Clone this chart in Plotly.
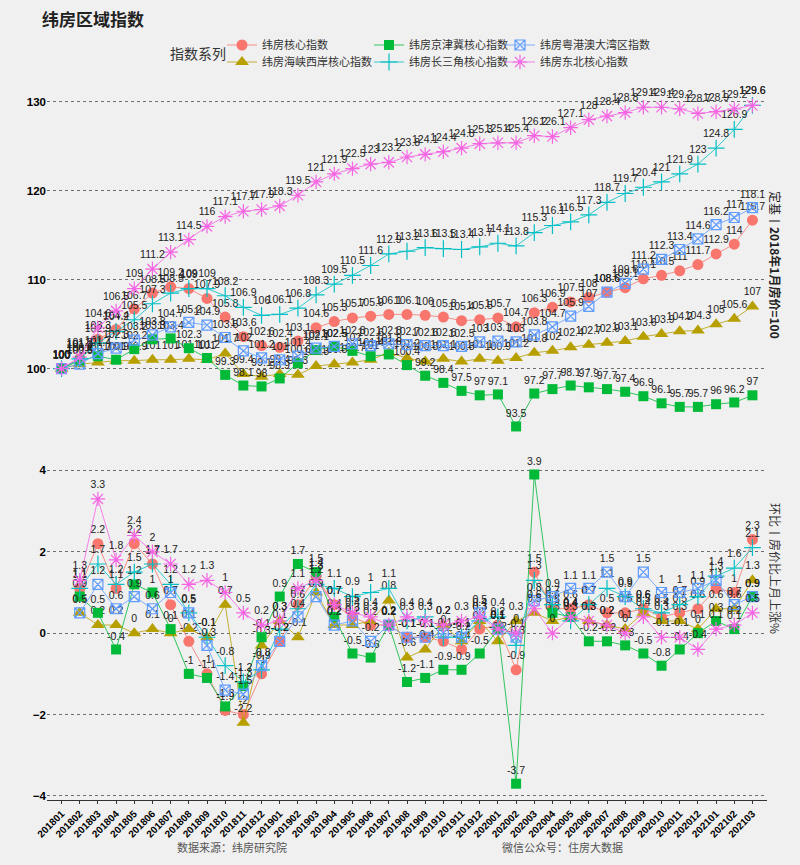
import plotly.graph_objects as go

months = ['201801', '201802', '201803', '201804', '201805', '201806', '201807', '201808', '201809', '201810',
          '201811', '201812', '201901', '201902', '201903', '201904', '201905', '201906', '201907', '201908',
          '201909', '201910', '201911', '201912', '202001', '202002', '202003', '202004', '202005', '202006',
          '202007', '202008', '202009', '202010', '202011', '202012', '202101', '202102', '202103']

# 定基指数 (2018年1月=100)
core_idx = [100, 101.1, 103.3, 104.4, 106.7, 108.5, 109.2, 109.0, 107.9, 105.8, 103.6, 102.6, 102.4, 103.1,
            104.6, 105.3, 105.7, 105.9, 106.1, 106.1, 106.0, 105.8, 105.4, 105.5, 105.7, 104.7, 106.3, 106.9,
            107.5, 108.0, 108.6, 109.1, 110.1, 110.5, 111.0, 111.7, 112.9, 114.0, 116.7]
hx_idx = [100, 100.5, 100.7, 100.9, 100.9, 101.0, 101.0, 101.1, 101.0, 101.7, 99.4, 99.1, 99.4, 99.3,
          100.3, 100.5, 100.7, 101.0, 101.8, 101.2, 100.8, 101.1, 100.8, 101.1, 100.9, 101.2, 101.8, 102.0,
          102.4, 102.7, 102.9, 103.1, 103.6, 103.9, 104.2, 104.3, 105.0, 105.6, 107.0]
jjj_idx = [100, 100.9, 101.4, 101.0, 102.2, 103.3, 103.4, 102.3, 101.2, 99.3, 98.1, 98.0, 98.9, 100.6,
           102.1, 102.5, 102.0, 101.4, 101.6, 100.4, 99.2, 98.4, 97.5, 97.0, 97.1, 93.5, 97.2, 97.7,
           98.1, 97.9, 97.7, 97.4, 96.9, 96.1, 95.7, 95.7, 96.0, 96.2, 97.0]
csj_idx = [100, 101.1, 102.9, 104.2, 105.5, 107.3, 108.5, 109.0, 109.0, 108.2, 106.9, 106.0, 106.1, 106.8,
           108.3, 109.5, 110.5, 111.6, 112.9, 113.2, 113.6, 113.5, 113.4, 113.7, 114.1, 113.8, 115.3, 116.1,
           116.5, 117.3, 118.7, 119.7, 120.4, 121.0, 121.9, 123.0, 124.8, 126.9, 129.6]
gba_idx = [100, 100.5, 101.7, 102.3, 103.2, 103.8, 104.7, 105.2, 104.9, 103.5, 102.0, 101.2, 101.0, 101.4,
           102.3, 102.5, 102.8, 102.6, 102.8, 102.7, 102.6, 102.6, 102.5, 103.0, 103.1, 103.0, 103.8, 104.7,
           105.9, 107.0, 108.6, 109.6, 111.2, 112.3, 113.4, 114.6, 116.2, 117.0, 118.1]
db_idx = [100, 101.3, 104.6, 106.5, 109.0, 111.2, 113.1, 114.5, 116.0, 117.1, 117.7, 117.9, 118.3, 119.5,
          121.0, 121.9, 122.5, 123.0, 123.2, 123.8, 124.1, 124.4, 124.8, 125.3, 125.4, 125.4, 126.2, 126.1,
          127.1, 128.0, 128.4, 128.8, 129.4, 129.4, 129.2, 128.7, 128.9, 129.2, 129.6]

# 环比 (%), from 201802
core_mom = [1.1, 2.2, 1.1, 2.2, 1.7, 0.7, -0.2, -1.0, -1.9, -2.0, -1.0, -0.2, 0.7, 1.4, 0.7, 0.4, 0.2, 0.2,
            -0.1, -0.1, -0.2, -0.4, 0.1, 0.2, -0.9, 1.5, 0.6, 0.6, 0.7, 0.5, 0.5, 0.6, 0.4, 0.5, 0.6, 1.1, 1.0, 2.3]
hx_mom = [0.5, 0.2, 0.2, 0.0, 0.1, 0.0, 0.1, -0.1, 0.7, -2.2, -0.3, 0.3, -0.1, 1.0, 0.2, 0.2, 0.3, 0.8,
          -0.6, -0.4, 0.2, -0.2, 0.3, -0.2, 0.3, 0.5, 0.3, 0.4, 0.3, 0.2, 0.1, 0.5, 0.3, 0.3, 0.1, 0.6, 0.6, 1.3]
jjj_mom = [0.9, 0.5, -0.4, 1.2, 1.0, 0.1, -1.0, -1.1, -1.8, -1.3, -0.1, 0.9, 1.7, 1.5, 0.4, -0.5, -0.6, 0.2,
           -1.2, -1.1, -0.9, -0.9, -0.5, 0.1, -3.7, 3.9, 0.5, 0.4, -0.2, -0.2, -0.3, -0.5, -0.8, -0.4, 0.0, 0.3, 0.1, 0.9]
csj_mom = [1.1, 1.7, 1.2, 1.5, 1.7, 1.2, 0.5, -0.1, -0.8, -1.2, -0.9, 0.1, 0.6, 1.2, 1.1, 0.9, 1.0, 1.1,
           0.3, 0.4, -0.1, -0.1, 0.3, 0.4, -0.3, 1.3, 0.7, 0.3, 0.7, 1.1, 0.9, 0.6, 0.5, 0.7, 0.9, 1.4, 1.6, 2.1]
gba_mom = [0.5, 1.2, 0.6, 0.9, 0.6, 1.0, 0.5, -0.3, -1.4, -1.5, -0.8, -0.2, 0.4, 0.9, 0.2, 0.3, -0.2, 0.2,
           -0.1, -0.1, 0.0, -0.1, 0.5, 0.1, -0.1, 0.8, 0.9, 1.1, 1.1, 1.5, 0.9, 1.5, 1.0, 1.0, 1.1, 1.3, 0.7, 0.9]
db_mom = [1.3, 3.3, 1.8, 2.4, 2.0, 1.7, 1.2, 1.3, 1.0, 0.5, 0.2, 0.3, 1.1, 1.3, 0.7, 0.5, 0.4, 0.2,
          0.4, 0.3, 0.2, 0.3, 0.4, 0.1, 0.0, 0.6, 0.0, 0.4, 0.3, 0.2, 0.0, 0.4, -0.1, -0.1, -0.4, 0.1, 0.2, 0.5]

names = ['纬房核心指数', '纬房海峡西岸核心指数', '纬房京津冀核心指数', '纬房长三角核心指数',
         '纬房粤港澳大湾区指数', '纬房东北核心指数']
idx_list = [core_idx, hx_idx, jjj_idx, csj_idx, gba_idx, db_idx]
mom_list = [core_mom, hx_mom, jjj_mom, csj_mom, gba_mom, db_mom]
colors = ['#F8766D', '#B79F00', '#00BA38', '#00BFC4', '#619CFF', '#F564E3']
line_colors = ['rgba(248,118,109,0.8)', 'rgba(183,159,0,0.8)', 'rgba(0,186,56,0.8)',
               'rgba(0,191,196,0.8)', 'rgba(97,156,255,0.8)', 'rgba(245,100,227,0.8)']
symbols = ['circle', 'triangle-up', 'square', 'cross-thin-open', 'square-x-open', 'asterisk-open']
sizes = [11, 12, 10, 12, 10, 12]

CJK = 'Noto Sans CJK SC'
NUM = 'Liberation Sans'

L, R, T, B = 47, 33, 85, 65
W, H = 800, 865
PW, PH = W - L - R, H - T - B


def px(x):
    return (x - L) / PW


def py(y):
    return (H - B - y) / PH


def fmt(v):
    return f'{v:g}'


# legend slot per series: (legend id, left x px, centre y px)
legend_ids = ['legend', 'legend2', 'legend3', 'legend4', 'legend5', 'legend6']
legend_pos = [(222, 45), (222, 62), (369, 45), (369, 62), (500, 45), (500, 62)]

fig = go.Figure()
for k in range(6):
    open_sym = symbols[k].endswith('open')
    marker = dict(symbol=symbols[k], size=sizes[k], color=colors[k],
                  line=dict(width=1.2 if open_sym else 0, color=colors[k]))
    fig.add_trace(go.Scatter(
        x=months, y=idx_list[k], mode='lines+markers+text', name=names[k],
        text=[fmt(v) for v in idx_list[k]], textposition='top center',
        textfont=dict(size=10.5, color='#222', family=NUM),
        line=dict(color=line_colors[k], width=1), marker=marker,
        xaxis='x', yaxis='y', legend=legend_ids[k], cliponaxis=False))
    fig.add_trace(go.Scatter(
        x=months[1:], y=mom_list[k], mode='lines+markers+text', name=names[k],
        text=[fmt(v) for v in mom_list[k]], textposition='top center',
        textfont=dict(size=10.5, color='#222', family=NUM),
        line=dict(color=line_colors[k], width=1), marker=marker,
        xaxis='x', yaxis='y2', showlegend=False, cliponaxis=False))

grid = dict(showgrid=True, gridcolor='#6e6e6e', griddash='dot', gridwidth=1, zeroline=False,
            tickfont=dict(family=NUM, size=11.5, color='black', weight='bold'), ticks='', showline=False,
            automargin=False)

legend_common = dict(orientation='v', bgcolor='rgba(0,0,0,0)', borderwidth=0,
                     font=dict(family=CJK, size=11, color='#333'), yanchor='middle', xanchor='left',
                     itemwidth=30)

layout_legends = {}
for lid, (lx, ly) in zip(legend_ids, legend_pos):
    layout_legends[lid] = dict(x=px(lx), y=py(ly), **legend_common)

fig.update_layout(
    width=W, height=H,
    paper_bgcolor='#F0F0F0', plot_bgcolor='#F0F0F0',
    margin=dict(l=L, r=R, t=T, b=B, autoexpand=False),
    title=dict(text='<b>纬房区域指数</b>', x=42 / W, xref='container', xanchor='left',
               y=1 - 20 / H, yref='container', yanchor='middle',
               font=dict(family=CJK, size=17, color='#222')),
    xaxis=dict(type='category', range=[-0.8, 38.8], anchor='y2', tickangle=-45,
               tickfont=dict(family=NUM, size=10, color='black', weight='bold'),
               showgrid=False, zeroline=False, showline=True, linecolor='#333', linewidth=1,
               ticks='outside', ticklen=3, tickcolor='#333', automargin=False),
    yaxis=dict(domain=[py(438), 1], range=[92.2, 131.9], tickvals=[100, 110, 120, 130], anchor='x', **grid),
    yaxis2=dict(domain=[0, py(446)], range=[-4.1, 4.6], tickvals=[-4, -2, 0, 2, 4], anchor='x', **grid),
    showlegend=True,
    **layout_legends,
)

ann_common = dict(xref='paper', yref='paper', showarrow=False, xanchor='center', yanchor='middle')
fig.add_annotation(text='指数系列', x=px(198), y=py(53),
                   font=dict(family=CJK, size=14, color='#333'), **ann_common)
fig.add_annotation(text='定基丨<b>2018年1月房价=100</b>', x=px(776), y=py(265), textangle=90,
                   font=dict(family=CJK, size=12, color='#222'), **ann_common)
fig.add_annotation(text='环比丨房价比上月上涨%', x=px(776), y=py(568), textangle=90,
                   font=dict(family=CJK, size=12, color='#333'), **ann_common)
fig.add_annotation(text='数据来源：纬房研究院', x=px(232), y=py(847),
                   font=dict(family=CJK, size=11, color='#555'), **ann_common)
fig.add_annotation(text='微信公众号：住房大数据', x=px(562), y=py(847),
                   font=dict(family=CJK, size=11, color='#555'), **ann_common)

fig.write_html('out.html', config={'displayModeBar': False},
               post_script="document.body.style.margin='0';document.body.style.background='#F0F0F0';")
